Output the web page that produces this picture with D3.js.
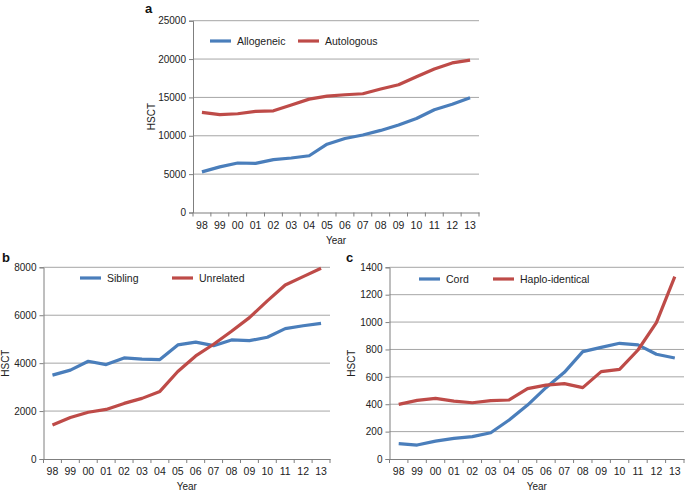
<!DOCTYPE html>
<html><head><meta charset="utf-8">
<script src="https://cdn.jsdelivr.net/npm/d3@7"></script>
<style>
body{margin:0;background:#fff;}
svg{display:block;font-family:"Liberation Sans",Arial,Helvetica,sans-serif;}
</style></head><body>
<svg id="chart" width="685" height="492"></svg>
<script>
const years = ["98","99","00","01","02","03","04","05","06","07","08","09","10","11","12","13"];

const allogeneic = [5300,5950,6450,6400,6900,7100,7400,8900,9650,10100,10700,11400,12250,13400,14100,14950];
const autologous = [13050,12750,12870,13170,13250,14000,14780,15170,15350,15480,16100,16650,17700,18700,19500,19870];

const sibling = [3500,3710,4080,3940,4220,4170,4150,4760,4880,4730,4970,4940,5080,5440,5560,5660];
const unrelated = [1420,1730,1950,2070,2320,2530,2820,3650,4300,4790,5330,5900,6600,7260,7610,7960];

const cord = [112,102,131,151,163,192,285,394,521,633,784,815,845,833,765,738];
const haplo = [399,428,443,423,411,426,431,514,540,550,521,638,655,796,996,1332];

const ticksA = [0,5000,10000,15000,20000,25000];
const ticksB = [0,2000,4000,6000,8000];
const ticksC = [0,200,400,600,800,1000,1200,1400];

const BLUE = "#4a7ebb", RED = "#be4b48";
const svg = d3.select("#chart");

function panel(opt){
  const g = svg.append("g");
  const x = d3.scaleBand().domain(years).range([opt.x0, opt.x1]);
  const y = d3.scaleLinear().domain([0, opt.ymax]).range([opt.y0, opt.y1]);
  g.append("g").selectAll("line").data(opt.ticks.filter(t=>t>0)).join("line")
    .attr("x1", opt.x0).attr("x2", opt.x1)
    .attr("y1", d=>y(d)).attr("y2", d=>y(d))
    .attr("stroke", "#a6a6a6").attr("stroke-width", 1);
  const ya = g.append("g").attr("transform", `translate(${opt.x0},0)`)
    .call(d3.axisLeft(y).tickValues(opt.ticks).tickSize(4).tickPadding(3).tickFormat(d3.format("d")));
  ya.select(".domain").attr("stroke","#7f7f7f");
  ya.selectAll(".tick line").attr("stroke","#7f7f7f");
  ya.selectAll("text").attr("font-size", 10).attr("fill","#222");
  const xa = g.append("g").attr("transform", `translate(0,${opt.y0})`)
    .call(d3.axisBottom(x).tickSize(0).tickPadding(9));
  xa.select(".domain").attr("stroke","#7f7f7f").attr("stroke-width",1.2);
  xa.selectAll("text").attr("font-size", 10.5).attr("fill","#222");
  const edges = years.map(d=>x(d)).concat([opt.x1]);
  g.append("g").selectAll("line").data(edges).join("line")
    .attr("x1", d=>d).attr("x2", d=>d)
    .attr("y1", opt.y0).attr("y2", opt.y0+4)
    .attr("stroke","#7f7f7f");
  const line = vals => d3.line().x((d,i)=>x(years[i])+x.bandwidth()/2).y(d=>y(d))(vals);
  g.append("path").attr("d", line(opt.s1)).attr("fill","none").attr("stroke",BLUE).attr("stroke-width",3.2).attr("stroke-linejoin","round");
  g.append("path").attr("d", line(opt.s2)).attr("fill","none").attr("stroke",RED).attr("stroke-width",3.2).attr("stroke-linejoin","round");
  const leg = [[opt.l1x, BLUE, opt.n1],[opt.l2x, RED, opt.n2]];
  leg.forEach(([lx,c,n])=>{
    g.append("line").attr("x1",lx).attr("x2",lx+21).attr("y1",opt.ly).attr("y2",opt.ly)
      .attr("stroke",c).attr("stroke-width",3.2);
    g.append("text").attr("x",lx+27).attr("y",opt.ly+3.5).attr("font-size",10.5).attr("fill","#222").text(n);
  });
  g.append("text").attr("x",(opt.x0+opt.x1)/2).attr("y",opt.y0+31).attr("text-anchor","middle")
    .attr("font-size",10).attr("fill","#222").text("Year");
  g.append("text").attr("transform",`translate(${opt.hx},${(opt.y0+opt.y1)/2}) rotate(-90)`)
    .attr("text-anchor","middle").attr("font-size",10).attr("fill","#222").text("HSCT");
  g.append("text").attr("x",opt.px).attr("y",opt.py).attr("font-size",13).attr("font-weight","bold").attr("fill","#111").text(opt.letter);
}

panel({x0:193, x1:479, y0:212.5, y1:20.7, ymax:25000, ticks:ticksA, s1:allogeneic, s2:autologous,
  n1:"Allogeneic", n2:"Autologous", l1x:210, l2x:298, ly:41, hx:155, px:145, py:13, letter:"a"});
panel({x0:43.5, x1:330, y0:459, y1:267.3, ymax:8000, ticks:ticksB, s1:sibling, s2:unrelated,
  n1:"Sibling", n2:"Unrelated", l1x:80, l2x:172, ly:278, hx:9, px:2, py:262, letter:"b"});
panel({x0:389.5, x1:684, y0:459, y1:267.3, ymax:1400, ticks:ticksC, s1:cord, s2:haplo,
  n1:"Cord", n2:"Haplo-identical", l1x:419, l2x:493, ly:279, hx:355, px:346, py:262, letter:"c"});
</script>
</body></html>
